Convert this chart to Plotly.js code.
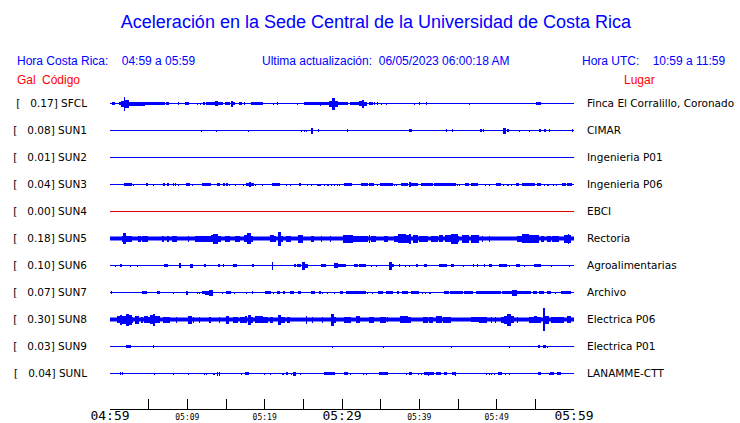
<!DOCTYPE html>
<html>
<head>
<meta charset="utf-8">
<script src="https://cdn.plot.ly/plotly-3.0.1.min.js"></script>
<style>html,body{margin:0;padding:0;background:#fff;}#chart{width:740px;height:423px;}</style>
</head>
<body>
<div id="chart"></div>
<script>
// ---- data ----
const stations = ['SFCL','SUN1','SUN2','SUN3','SUN4','SUN5','SUN6','SUN7','SUN8','SUN9','SUNL'];
const peakGal = ['0.17','0.08','0.01','0.04','0.00','0.18','0.10','0.07','0.30','0.03','0.04'];
const places = ['Finca El Corralillo, Coronado','CIMAR','Ingenieria P01','Ingenieria P06','EBCI','Rectoria','Agroalimentarias','Archivo','Electrica P06','Electrica P01','LANAMME-CTT'];
const tickMinutes = [0,5,10,15,20,25,30,35,40,45,50,55,60];
const tickLabels = ['04:59','','05:09','','05:19','','05:29','','05:39','','05:49','','05:59'];
const bigTickLabels = ['04:59','05:29','05:59'];
// background noise amplitude of each record
const noiseAmp = [0.5,0.5,0.5,0.5,0.5,2,0.5,0.5,2,0.5,0.5];
const deadStation = [false,false,false,false,true,false,false,false,false,false,false];
// bursts: [start minute, end minute, half amplitude]
const evSFCL = [[0.2,0.6,1.3],[1.1,1.5,1.3],[1.42,1.76,3],[1.76,1.94,7],[1.94,2.45,4],[2.45,4.5,2],[4.5,7.1,1.5],[7.3,7.66,1.5],[8.9,8.9,1.5],[9.68,10.19,1.5],[11.27,11.27,1],[11.61,11.83,1],[12.04,12.34,1.5],[12.47,13.55,1.5],[13.55,13.98,2.5],[13.98,14.62,1.5],[14.84,15.48,1.5],[15.61,15.91,3],[15.91,16.13,1.5],[16.65,17.08,1.5],[17.33,17.51,1.5],[18.28,19.78,1.5],[21.2,21.2,1],[21.63,21.63,1.5],[24.3,24.3,1],[25.03,25.59,1.5],[25.59,27.1,1.5],[27.1,27.31,2],[27.31,28.26,1.5],[28.26,28.69,3],[28.73,29.12,6],[29.12,29.46,3],[29.46,30.75,1.5],[30.97,32.26,1.5],[32.26,32.56,2.5],[32.56,32.82,4],[32.82,33.25,2],[33.55,33.98,1.5],[34.11,34.28,1.5],[34.54,34.71,1.5],[35.05,35.05,1],[35.78,35.78,1],[39.27,39.48,1],[40.0,40.13,1.5],[40.9,40.9,1.5],[46.49,46.49,1],[55.1,55.7,1.5]];
const evSUN1 = [[11.79,11.79,1],[13.72,13.72,1],[17.85,17.85,1],[24.73,24.73,1],[25.2,25.2,1],[25.46,25.46,1],[26.02,26.24,3],[27.01,27.01,1.5],[30.75,30.75,1.5],[34.75,34.75,0.8],[38.71,39.05,1.5],[40.9,40.9,0.8],[43.53,43.53,1.2],[44.3,44.3,1.2],[47.87,48.09,1.5],[48.3,48.3,1.2],[50.88,51.18,3],[51.4,51.53,1.5],[52.95,52.95,1],[53.76,53.76,0.8],[54.24,54.24,1],[55.48,55.7,1.5],[56.13,56.34,1.5],[56.82,56.82,1.2],[57.55,57.55,0.8],[59.78,59.78,1.5]];
const evSUN2 = [];
const evSUN3 = [[1.85,2.02,1.5],[2.02,2.8,1.5],[3.01,3.01,1],[4.6,4.86,1.5],[5.63,5.63,1],[6.88,7.1,1.5],[7.4,7.57,1.5],[8.26,8.26,1.2],[8.43,8.43,1.2],[8.9,8.9,1],[9.89,10.32,1.5],[10.62,10.62,1],[11.96,13.03,1.5],[13.81,14.28,1.5],[14.58,14.84,1.5],[14.97,15.27,1.5],[15.48,15.48,1],[16.17,16.17,1],[17.2,17.2,1],[17.63,17.94,1.5],[17.94,18.28,2.5],[18.28,18.58,1.5],[18.79,18.79,1],[19.66,19.66,1],[20.99,22.02,1.5],[22.8,22.8,1],[23.35,23.35,1],[24.39,24.73,1.5],[25.59,25.59,1],[26.02,26.02,1],[26.8,27.31,1],[27.74,27.74,1],[28.09,28.26,1],[28.6,28.6,1],[29.03,29.03,1],[29.38,29.38,1],[29.68,29.68,1],[30.32,31.27,1.5],[32.47,33.33,1.5],[33.55,34.19,1.5],[34.54,34.54,1],[34.97,36.56,1.5],[36.77,36.77,1],[37.07,37.07,1],[37.63,38.58,1.5],[38.71,38.92,2.5],[38.92,39.78,1.5],[40.21,41.72,1.5],[41.85,44.73,1.5],[44.95,44.95,1],[45.16,45.16,1],[45.89,46.45,1.5],[46.66,47.53,1.5],[48.6,48.6,1],[49.03,49.03,1],[49.89,50.54,1.5],[50.88,50.88,1],[51.31,51.61,1],[51.91,51.91,1],[52.56,52.91,1.5],[53.33,54.92,1.5],[55.27,55.7,1.5],[56.13,56.13,1],[56.56,56.77,1],[57.33,57.33,1],[57.76,57.76,1],[58.49,58.92,1.5],[59.14,59.78,1.5]];
const evSUN4 = [];
const evSUN5 = [[1.51,1.72,3],[1.72,2.02,5.5],[2.02,2.8,3],[3.66,4.0,3],[4.17,4.86,3],[6.75,7.01,3],[7.31,7.61,3],[7.96,8.6,3],[10.11,10.11,3],[11.05,12.26,3],[12.26,13.03,3],[13.03,13.55,3.5],[13.33,13.98,5],[13.98,14.41,3],[14.84,15.48,3],[16.13,16.77,3],[17.33,17.76,3.5],[17.76,18.19,5.5],[18.19,18.49,3],[20.64,21.2,3.5],[21.2,21.51,3],[21.72,22.06,7],[22.06,22.37,3],[22.8,23.44,3],[24.3,24.95,4],[26.02,26.37,3],[27.31,27.31,3],[28.39,28.6,3],[30.11,31.4,4],[31.4,32.04,3],[32.13,33.33,3],[33.55,33.55,4],[33.76,34.41,3],[35.4,35.91,3],[36.69,37.2,3],[37.2,38.28,4.5],[38.28,38.71,4],[38.71,38.92,5],[39.14,39.78,4],[40.0,41.07,3],[41.5,42.36,3],[42.58,43.01,3.5],[43.31,44.09,3.5],[44.09,44.95,5],[44.95,45.16,3],[45.46,46.45,4],[46.66,47.74,4],[48.17,48.17,3],[49.03,49.03,3],[52.6,53.33,3],[53.33,54.19,4.5],[54.19,55.48,4],[55.78,56.13,3],[56.47,56.99,3],[57.2,58.06,3],[58.71,59.57,4],[59.35,59.35,5]];
const evSUN6 = [[0.65,0.65,1],[1.29,1.51,1.5],[2.71,2.71,1],[3.57,3.57,1],[7.01,7.44,1.5],[8.9,9.16,2.5],[10.37,10.75,2],[12.17,12.47,1.5],[13.98,14.19,1.5],[14.58,14.75,1.5],[15.91,16.47,1.5],[18.32,18.62,1.5],[20.95,21.08,4],[23.78,24.09,1.5],[24.21,24.73,1.5],[24.82,25.16,4],[25.16,25.59,2],[27.31,27.96,1.5],[28.95,29.46,2.5],[29.46,30.54,1.5],[31.61,32.04,1.5],[32.26,33.12,1.5],[33.76,33.76,1],[34.41,34.41,1],[36.13,36.43,4],[36.43,36.69,1.5],[37.33,37.55,1.5],[38.19,38.19,1],[38.71,38.71,1],[39.57,39.78,1.5],[40.56,40.99,1.5],[42.58,43.57,1.5],[44.09,44.52,1.5],[45.72,45.72,1],[46.88,47.09,1.5],[47.44,47.53,1.5],[48.3,48.47,1.5],[49.03,49.37,1.5],[50.32,51.31,1.5],[51.61,51.61,1],[52.47,52.99,1.5],[53.54,53.54,1],[54.84,55.7,1.5],[57.08,57.08,1],[59.48,59.48,1]];
const evSUN7 = [[0.1,0.3,1.5],[4.17,4.73,1.5],[6.02,6.45,1.5],[8.17,8.17,1],[9.81,10.11,2],[11.31,11.31,1],[11.61,11.61,1],[11.91,12.26,1.5],[12.26,12.77,2],[12.77,13.33,3],[14.49,14.49,1],[15.05,15.61,1.5],[16.13,16.13,1],[17.59,17.59,1],[18.37,18.49,1.5],[20.0,20.86,1.5],[21.08,21.08,1],[21.63,21.94,1.5],[22.37,22.58,1.5],[23.23,23.78,1.5],[24.3,24.73,1.5],[25.94,26.54,1.5],[27.01,27.31,1.5],[27.53,27.53,1],[28.09,28.09,1],[29.03,29.03,1],[29.68,30.11,1.5],[30.54,33.12,1.5],[33.33,33.33,1],[33.98,33.98,1],[34.62,35.27,1.5],[35.7,36.56,1.5],[37.12,37.42,1.5],[37.76,38.49,1.5],[38.92,40.0,1.5],[40.43,40.43,1],[40.86,40.86,1],[41.29,41.5,1],[43.14,43.79,1.5],[44.0,45.59,1.5],[45.81,46.88,1.5],[47.31,50.54,1.5],[50.75,52.04,1.5],[52.04,52.69,3],[52.69,54.41,1.5],[54.75,55.27,1.5],[55.48,56.13,1.5],[56.47,56.99,1.5],[57.63,57.63,1],[58.28,59.57,1.5]];
const evSUN8 = [[0.86,1.29,3.5],[1.29,1.59,5],[1.59,2.02,4],[2.02,2.45,6],[2.45,2.8,5],[2.8,3.01,3],[3.23,3.74,4],[4.0,4.3,3],[4.43,4.86,3.5],[4.86,5.16,3],[5.16,5.59,4.5],[5.59,5.81,6],[5.81,6.45,3.5],[6.88,7.74,3],[8.6,8.6,3],[10.11,10.62,4],[10.75,10.75,3],[11.61,11.61,3],[12.82,13.03,3],[14.19,14.19,3],[15.05,15.35,4],[15.91,16.56,3],[16.77,17.42,3],[17.42,17.76,3.5],[17.85,18.19,5],[18.19,18.49,3],[18.79,19.78,3.5],[19.78,20.43,3],[20.64,21.08,3],[21.72,22.15,5],[22.15,22.58,3],[22.92,23.23,3],[25.38,25.38,4],[26.24,26.24,3],[27.53,27.53,3],[28.6,28.95,6],[28.95,29.25,3],[30.32,31.1,3],[31.83,32.39,3.5],[33.55,34.19,3],[34.97,35.7,3],[35.91,35.91,2.5],[37.55,38.58,3.5],[38.58,38.92,3],[40.43,41.07,3],[41.29,41.72,3],[42.15,42.88,3.5],[43.01,44.09,3],[46.66,47.74,2.5],[47.74,48.73,3],[49.33,49.33,3],[49.89,49.89,3],[50.54,50.97,3],[50.97,51.4,4],[51.4,51.91,6],[51.91,52.26,3.5],[52.69,52.69,3],[54.19,54.84,3],[54.84,55.27,3.5],[55.27,55.7,3],[56.04,56.26,11.5],[56.26,56.77,4],[56.99,58.06,3],[58.06,58.71,3],[59.14,59.57,3.5]];
const evSUN9 = [[1.51,1.51,0.8],[2.06,2.67,1.5],[5.51,5.72,1.5],[22.15,22.15,0.8],[28.82,28.82,1],[35.4,35.4,1],[40.82,40.82,0.8],[44.17,44.17,1],[50.75,50.75,0.8],[51.66,51.66,1],[55.35,55.57,1.5],[56.0,56.43,1.5],[56.6,56.6,1],[57.84,57.84,0.8]];
const evSUNL = [[1.38,1.38,1.2],[1.59,1.59,1.2],[5.72,5.72,1],[7.96,7.96,0.8],[8.26,8.26,1],[10.11,10.11,1],[12.17,12.17,1],[12.47,12.47,1],[13.33,13.33,1],[13.55,13.55,1],[13.85,13.85,2],[14.11,14.28,2],[16.99,16.99,1],[17.42,17.94,1.5],[20.0,20.0,1],[20.69,20.69,1],[22.37,22.37,1],[22.71,23.01,1.5],[23.44,23.44,1],[23.7,24.09,2],[24.6,24.6,1],[27.66,29.03,1.5],[30.32,30.75,1.5],[31.1,31.1,1],[32.82,32.82,1],[33.12,33.12,1],[34.84,35.91,1.5],[38.36,38.36,1],[38.71,39.01,1.5],[39.91,39.91,1],[40.3,40.3,1],[40.64,41.93,1.5],[41.16,41.16,2],[42.15,42.8,1.5],[43.14,43.57,1.5],[44.17,44.64,1.5],[44.73,44.73,2],[46.15,46.15,0.8],[48.69,48.69,1],[49.03,49.03,1],[49.33,49.33,1],[49.68,49.68,1],[50.19,50.67,1.5],[51.18,51.18,1],[51.61,51.61,1],[54.11,54.11,0.8],[55.35,55.7,1.5],[56.77,56.77,1],[56.9,57.42,1.5],[57.76,58.28,1.5]];
const events = [evSFCL, evSUN1, evSUN2, evSUN3, evSUN4, evSUN5, evSUN6, evSUN7, evSUN8, evSUN9, evSUNL];

// ---- build ----
const BLUE = '#0000ff', RED = '#dd0000';
const SPACING = 27;
const offsets = stations.map((s, i) => -SPACING * i);
const NB = '\u00a0';
const leftLabels = stations.map((s, i) => '[' + NB + NB + NB + peakGal[i] + ']' + NB + s);

const traces = [];
stations.forEach((s, i) => {
  const off = offsets[i];
  traces.push({
    type: 'scatter', mode: 'lines', x: [0, 60], y: [off, off],
    line: {color: deadStation[i] ? RED : BLUE, width: Math.max(1, 2 * noiseAmp[i])},
    hoverinfo: 'skip', showlegend: false
  });
  const ev = events[i];
  if (ev.length) {
    traces.push({
      type: 'bar',
      x: ev.map(e => (e[0] + e[1]) / 2),
      width: ev.map(e => Math.max(e[1] - e[0], 0.13)),
      base: ev.map(e => off - e[2]),
      y: ev.map(e => 2 * e[2]),
      marker: {color: BLUE, line: {width: 0}},
      hoverinfo: 'skip', showlegend: false
    });
  }
});
// anchor trace for the right-hand axis
traces.push({type: 'scatter', mode: 'markers', x: [30], y: [0], yaxis: 'y2',
  marker: {opacity: 0}, hoverinfo: 'skip', showlegend: false});

const tickText = tickLabels.map(t => (t === '' ? '' : (bigTickLabels.includes(t) ? t : '<span style="font-size:8px">' + t + '</span>')));

const W = 740, H = 423, L = 110, R = 166, T = 90, B = 14;
const pw = W - L - R, ph = H - T - B;
const px = p => (p - L) / pw;
const py = p => (H - B - p) / ph;
const hdrFont = {family: 'Liberation Sans, Arial, sans-serif', size: 12, color: BLUE};
const redFont = {family: 'Liberation Sans, Arial, sans-serif', size: 12, color: '#ff0000'};
const ann = (x, y, text, font) => ({xref: 'paper', yref: 'paper', x: px(x), y: py(y), xanchor: 'left', yanchor: 'middle', text, font, showarrow: false});
const yRange = [-305.5, 13.5];

const layout = {
  width: W, height: H,
  margin: {l: L, r: R, t: T, b: B, pad: 0},
  paper_bgcolor: '#fff', plot_bgcolor: '#fff',
  barmode: 'overlay', bargap: 0,
  title: {text: 'Aceleración en la Sede Central de la Universidad de Costa Rica',
    font: {family: 'Liberation Sans, Arial, sans-serif', size: 18, color: BLUE},
    x: 376 / W, xanchor: 'center', xref: 'container', y: 1 - 22 / H, yanchor: 'middle', yref: 'container'},
  xaxis: {range: [0, 60], tickvals: tickMinutes, ticktext: tickText, ticks: 'inside', ticklen: 10, tickwidth: 1, tickcolor: '#000',
    showline: true, linecolor: '#000', linewidth: 1, showgrid: false, zeroline: false, automargin: false,
    ticklabelstandoff: -6,
    tickfont: {family: 'DejaVu Sans Mono, monospace', size: 13, color: '#000'}, fixedrange: true},
  yaxis: {range: yRange, tickvals: offsets, ticktext: leftLabels, ticks: '', showline: false, showgrid: false, zeroline: false,
    automargin: false, ticklabelstandoff: 22, tickfont: {family: 'DejaVu Sans', size: 10.5, color: '#000'}, fixedrange: true},
  yaxis2: {range: yRange, overlaying: 'y', side: 'right', tickvals: offsets, ticktext: places, ticks: '', showline: false,
    showgrid: false, zeroline: false, automargin: false, ticklabelstandoff: 12,
    tickfont: {family: 'DejaVu Sans', size: 10.5, color: '#000'}, fixedrange: true},
  annotations: [
    ann(15, 61, 'Hora Costa Rica:' + NB + NB + NB + NB + '04:59 a 05:59', hdrFont),
    ann(260, 61, 'Ultima actualización:' + NB + NB + '06/05/2023 06:00:18 AM', hdrFont),
    ann(580, 61, 'Hora UTC:' + NB + NB + NB + NB + '10:59 a 11:59', hdrFont),
    ann(15, 80, 'Gal', redFont),
    ann(40, 80, 'Código', redFont),
    ann(622, 80, 'Lugar', redFont)
  ]
};

Plotly.newPlot('chart', traces, layout, {staticPlot: true, displayModeBar: false});
</script>
</body>
</html>
